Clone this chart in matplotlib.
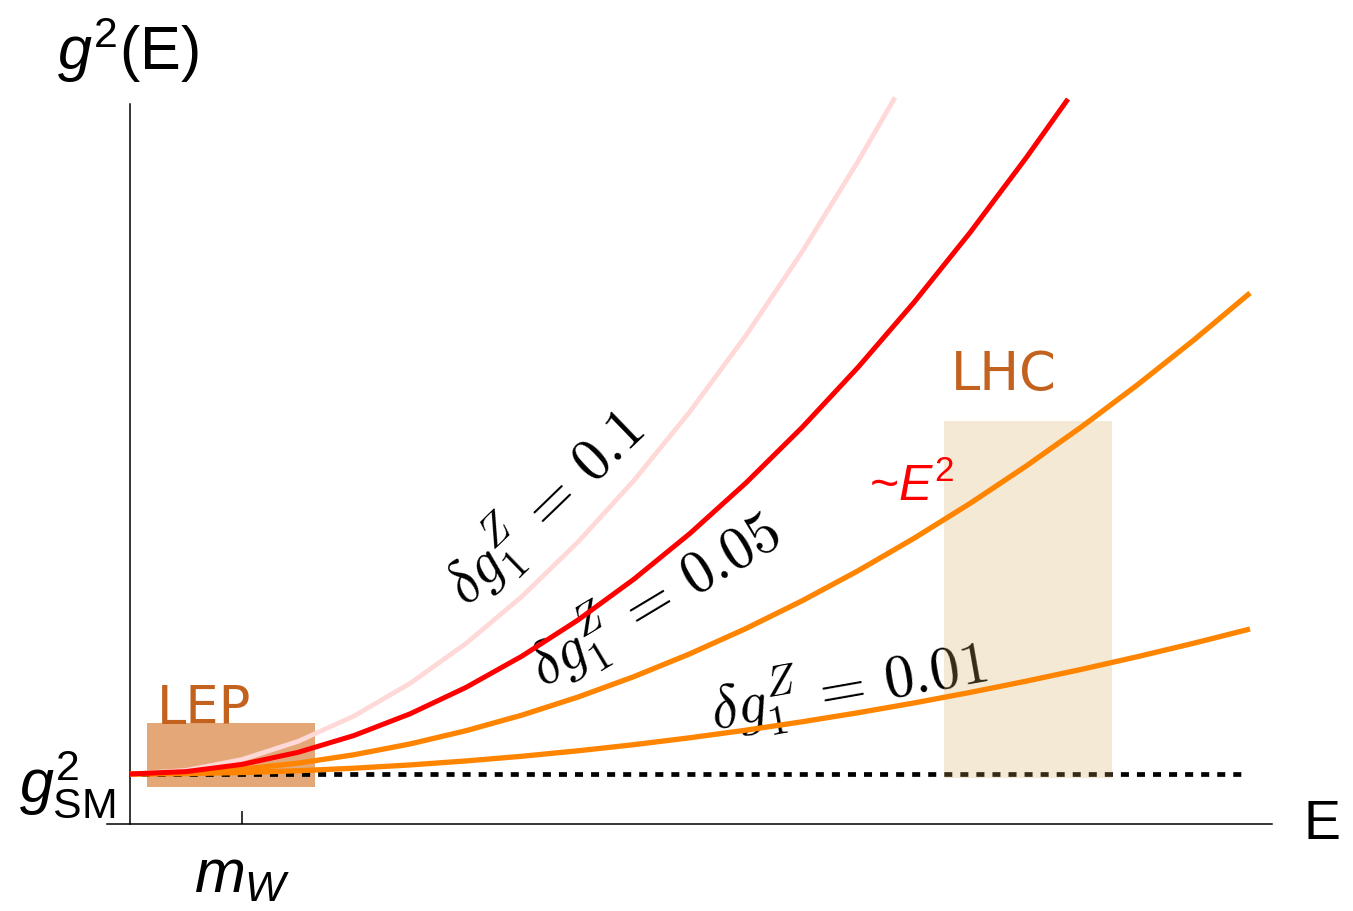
import matplotlib
matplotlib.use("Agg")
import matplotlib.pyplot as plt
from matplotlib.patches import Rectangle

plt.rcParams['font.family'] = ['Liberation Sans', 'DejaVu Sans']
plt.rcParams['mathtext.fontset'] = 'custom'
plt.rcParams['mathtext.rm'] = 'Liberation Sans'
plt.rcParams['mathtext.it'] = 'Liberation Sans:italic'
plt.rcParams['mathtext.bf'] = 'Liberation Sans:bold'

# energy in units of m_W, coupling in units where g_SM^2 = 1
energy = [0, 0.5, 1, 1.5, 2, 2.5, 3, 3.5, 4, 4.5, 5, 5.5, 6, 6.5, 7,
          7.5, 8, 8.5, 9, 9.5, 10]
g2_dg010 = [1.000, 1.072, 1.290, 1.652, 2.160, 2.812, 3.610, 4.552, 5.640,
            6.872, 8.250, 9.772, 11.440, 13.252, 14.530]
e_dg010 = energy[:14] + [6.83]
g2_dg005 = [1.000, 1.048, 1.192, 1.433, 1.770, 2.203, 2.732, 3.358, 4.080,
            4.898, 5.812, 6.823, 7.930, 9.133, 10.432, 11.828, 13.320, 14.500]
e_dg005 = energy[:17] + [8.375]
g2_dg002 = [1.000, 1.024, 1.096, 1.216, 1.385, 1.601, 1.866, 2.178, 2.539,
            2.948, 3.405, 3.910, 4.463, 5.064, 5.714, 6.411, 7.157, 7.950,
            8.792, 9.682, 10.620]
g2_dg001 = [1.000, 1.007, 1.029, 1.065, 1.116, 1.181, 1.261, 1.355, 1.464,
            1.587, 1.725, 1.877, 2.044, 2.225, 2.421, 2.631, 2.856, 3.095,
            3.349, 3.617, 3.900]

g2_sm = 1.0
sm_range = [0.1, 9.95]

# experiment windows: (E_min, E_max, g2_min, g2_max)
lep_box = (0.15, 1.65, 0.74, 2.02)
lhc_box = (7.27, 8.77, 0.92, 8.06)

fig = plt.figure(figsize=(13.53, 9.12), dpi=100)
ax = fig.add_axes([107 / 1353, 87 / 912, 1165 / 1353, 720 / 912])
ax.set_xlim(-23 / 112, 1142 / 112)
ax.set_ylim(0, 14.4)

for s in ['top', 'right']:
    ax.spines[s].set_visible(False)
ax.spines['left'].set_position(('data', 0))
for s in ['left', 'bottom']:
    ax.spines[s].set_linewidth(1.1)

# boxes
ax.add_patch(Rectangle((lep_box[0], lep_box[2]), lep_box[1] - lep_box[0],
                       lep_box[3] - lep_box[2], facecolor='#e4a878',
                       edgecolor='none', zorder=0.5))
ax.plot(sm_range, [g2_sm, g2_sm], color='black', lw=3.4,
        linestyle=(0, (1.7, 1.7)), dash_capstyle='butt', zorder=1)
ax.add_patch(Rectangle((lhc_box[0], lhc_box[2]), lhc_box[1] - lhc_box[0],
                       lhc_box[3] - lhc_box[2], facecolor='#d4aa58',
                       alpha=0.25, edgecolor='none', zorder=2))

# curves
line_kw = dict(clip_on=False, solid_capstyle='butt', solid_joinstyle='round')
ax.plot(e_dg010, g2_dg010, color='#ffd8d8', lw=3.4, zorder=3, **line_kw)
ax.plot(e_dg005, g2_dg005, color='#ff0000', lw=3.6, zorder=3.2, **line_kw)
ax.plot(energy, g2_dg002, color='#ff8400', lw=3.8, zorder=3.1, **line_kw)
ax.plot(energy, g2_dg001, color='#ff8400', lw=3.8, zorder=3.1, **line_kw)

# ticks
ax.set_xticks([1])
ax.set_xticklabels([r'$m_W$'], fontsize=44)
ax.set_yticks([g2_sm])
ax.set_yticklabels([r'$g^2_{\mathrm{SM}}$'], fontsize=44)
ax.tick_params(axis='x', direction='in', length=9.4, width=1.1, pad=17)
ax.tick_params(axis='y', direction='in', length=7.2, width=1.1, pad=10)

# axis titles
ax.text(-0.02, 15.5, r'$g^2$(E)', fontsize=44, ha='center', va='center',
        clip_on=False)
ax.text(10.64, 0, 'E', fontsize=40, ha='center', va='center', clip_on=False)

# labels
lab_kw = dict(fontsize=43, ha='center', va='center', rotation_mode='anchor',
              math_fontfamily='cm', zorder=1.5)
ax.text(3.70, 6.34, r'$\delta g_1^Z\,=\,0.1$', rotation=44, **lab_kw)
ax.text(4.69, 4.50, r'$\delta g_1^Z\,=\,0.05$', rotation=31, **lab_kw)
ax.text(6.41, 2.74, r'$\delta g_1^Z\,=\,0.01$', rotation=10, **lab_kw)
ax.text(6.98, 6.76, r'~$E^2$', color='#ff0000', fontsize=36, ha='center',
        va='center')
ax.text(7.80, 9.0, 'LHC', color='#c2621e', fontsize=38, ha='center',
        va='center', family='DejaVu Sans')
ax.text(0.66, 2.32, 'LEP', color='#c2621e', fontsize=38, ha='center',
        va='center', family='DejaVu Sans')

fig.savefig('out.png', dpi=100)
